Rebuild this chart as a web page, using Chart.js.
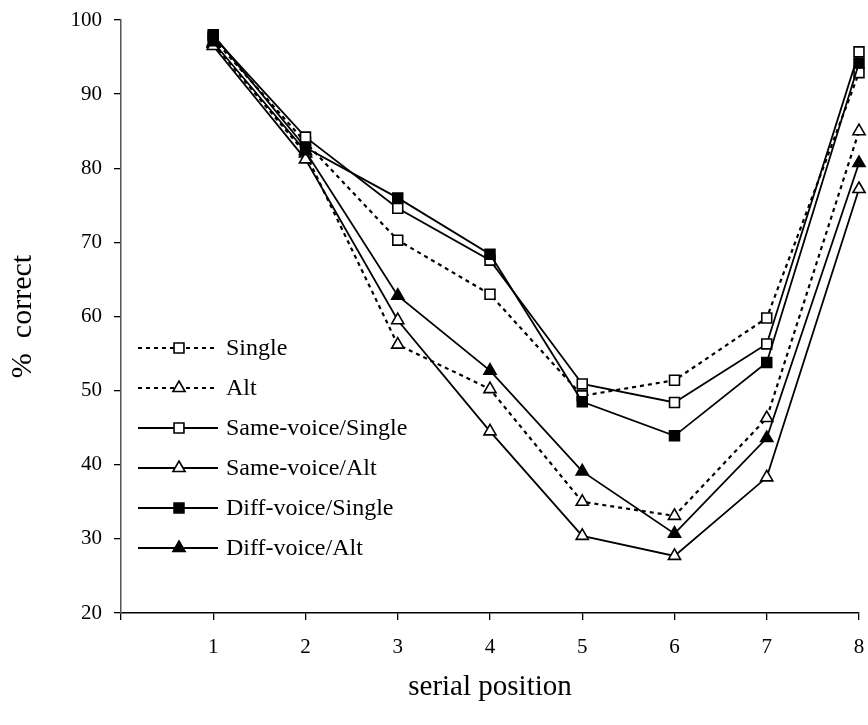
<!DOCTYPE html>
<html>
<head>
<meta charset="utf-8">
<script src="https://cdn.jsdelivr.net/npm/chart.js@4.4.0/dist/chart.umd.min.js"></script>
<style>
html,body{margin:0;padding:0;background:#fff;}
#wrap{width:868px;height:725px;position:relative;}
</style>
</head>
<body>
<div id="wrap"><canvas id="c" width="868" height="725"></canvas></div>
<script>
// ---- data ----
const positions = [1, 2, 3, 4, 5, 6, 7, 8];
const yTicks = [20, 30, 40, 50, 60, 70, 80, 90, 100];
const seriesNames = ['Single', 'Alt', 'Same-voice/Single', 'Same-voice/Alt', 'Diff-voice/Single', 'Diff-voice/Alt'];
const single      = [97.5, 83.5, 70.3, 63.0, 49.3, 51.4, 59.8, 92.9];
const alt         = [96.8, 82.0, 56.2, 50.2, 35.0, 33.1, 46.3, 85.0];
const sameSingle  = [97.8, 84.2, 74.6, 67.6, 50.9, 48.4, 56.3, 95.7];
const sameAlt     = [96.5, 81.2, 59.5, 44.5, 30.4, 27.7, 38.3, 77.2];
const diffSingle  = [98.0, 82.8, 76.0, 68.4, 48.5, 43.9, 53.8, 94.2];
const diffAlt     = [97.0, 82.3, 62.8, 52.7, 39.1, 30.7, 43.6, 80.7];

const FONT = "'Liberation Serif','Times New Roman',Times,serif";
const DOT = [4, 4];

function pts(vals){ return positions.map((p, i) => ({x: p, y: vals[i]})); }

function makeDs(label, vals, style, filled, dashed, order){
  return {
    label: label,
    data: pts(vals),
    borderColor: '#000',
    borderWidth: dashed ? 2.2 : 1.8,
    borderDash: dashed ? DOT : [],
    pointStyle: style,
    pointRadius: 7,
    pointBorderWidth: 1.6,
    pointBorderColor: '#000',
    pointBackgroundColor: filled ? '#000' : '#fff',
    tension: 0,
    fill: false,
    clip: false,
    order: order
  };
}

const datasets = [
  makeDs(seriesNames[0], single,     'rect',     false, true,  6),
  makeDs(seriesNames[1], alt,        'triangle', false, true,  5),
  makeDs(seriesNames[2], sameSingle, 'rect',     false, false, 4),
  makeDs(seriesNames[3], sameAlt,    'triangle', false, false, 3),
  makeDs(seriesNames[4], diffSingle, 'rect',     true,  false, 2),
  makeDs(seriesNames[5], diffAlt,    'triangle', true,  false, 1)
];

function drawMarker(ctx, style, r, x, y){
  ctx.beginPath();
  if (style === 'rect') {
    const s = Math.SQRT1_2 * r;
    ctx.rect(x - s, y - s, 2 * s, 2 * s);
  } else {
    const a = -Math.PI / 2;
    for (let k = 0; k < 3; k++) {
      const ang = a + k * 2 * Math.PI / 3;
      const px = x + Math.cos(ang) * r, py = y + Math.sin(ang) * r;
      if (k === 0) ctx.moveTo(px, py); else ctx.lineTo(px, py);
    }
    ctx.closePath();
  }
  ctx.fill();
  ctx.stroke();
}

const inlineLegend = {
  id: 'inlineLegend',
  afterDraw(chart){
    const ctx = chart.ctx;
    const top = 348, step = 40, x0 = 138, x1 = 218, mx = 179, tx = 226;
    chart.data.datasets.forEach((ds, i) => {
      const y = top + i * step;
      ctx.save();
      ctx.strokeStyle = '#000';
      ctx.lineWidth = ds.borderWidth;
      ctx.setLineDash(ds.borderDash || []);
      ctx.beginPath(); ctx.moveTo(x0, y); ctx.lineTo(x1, y); ctx.stroke();
      ctx.setLineDash([]);
      ctx.lineWidth = ds.pointBorderWidth;
      ctx.fillStyle = ds.pointBackgroundColor;
      drawMarker(ctx, ds.pointStyle, ds.pointRadius, mx, y);
      ctx.fillStyle = '#000';
      ctx.font = '24px ' + FONT;
      ctx.textBaseline = 'middle';
      ctx.textAlign = 'left';
      ctx.fillText(ds.label, tx, y + 1);
      ctx.restore();
    });
  }
};

new Chart(document.getElementById('c'), {
  type: 'line',
  data: { datasets: datasets },
  options: {
    responsive: false,
    animation: false,
    layout: { padding: { top: 20, right: 9, left: 0, bottom: 0 } },
    plugins: { legend: { display: false }, tooltip: { enabled: false } },
    scales: {
      x: {
        type: 'linear',
        min: 0, max: 8,
        afterFit(scale){ scale.height = 112; scale.paddingLeft = 0; scale.paddingRight = 0; },
        afterBuildTicks(scale){ scale.ticks = [0].concat(positions).map(v => ({value: v})); },
        ticks: {
          color: '#000',
          font: { family: FONT, size: 21 },
          padding: 15,
          maxRotation: 0,
          callback: (v) => v === 0 ? '' : String(v)
        },
        grid: { display: true, drawOnChartArea: false, drawTicks: true, tickLength: 7, color: '#000', lineWidth: 1.3 },
        border: { display: true, color: '#000', width: 1.5 },
        title: { display: true, text: 'serial position', color: '#000', font: { family: FONT, size: 29 }, padding: { top: 0, bottom: 20 } }
      },
      y: {
        type: 'linear',
        min: 20, max: 100,
        afterFit(scale){ scale.width = 121; scale.paddingTop = 0; scale.paddingBottom = 0; },
        afterBuildTicks(scale){ scale.ticks = yTicks.map(v => ({value: v})); },
        ticks: {
          color: '#000',
          font: { family: FONT, size: 21 },
          padding: 12
        },
        grid: { display: true, drawOnChartArea: false, drawTicks: true, tickLength: 7, color: '#000', lineWidth: 1.3 },
        border: { display: true, color: '#555', width: 1.5 },
        title: { display: true, text: '%  correct', color: '#000', font: { family: FONT, size: 30 }, padding: { top: 5, bottom: 0 } }
      }
    }
  },
  plugins: [inlineLegend]
});
</script>
</body>
</html>
